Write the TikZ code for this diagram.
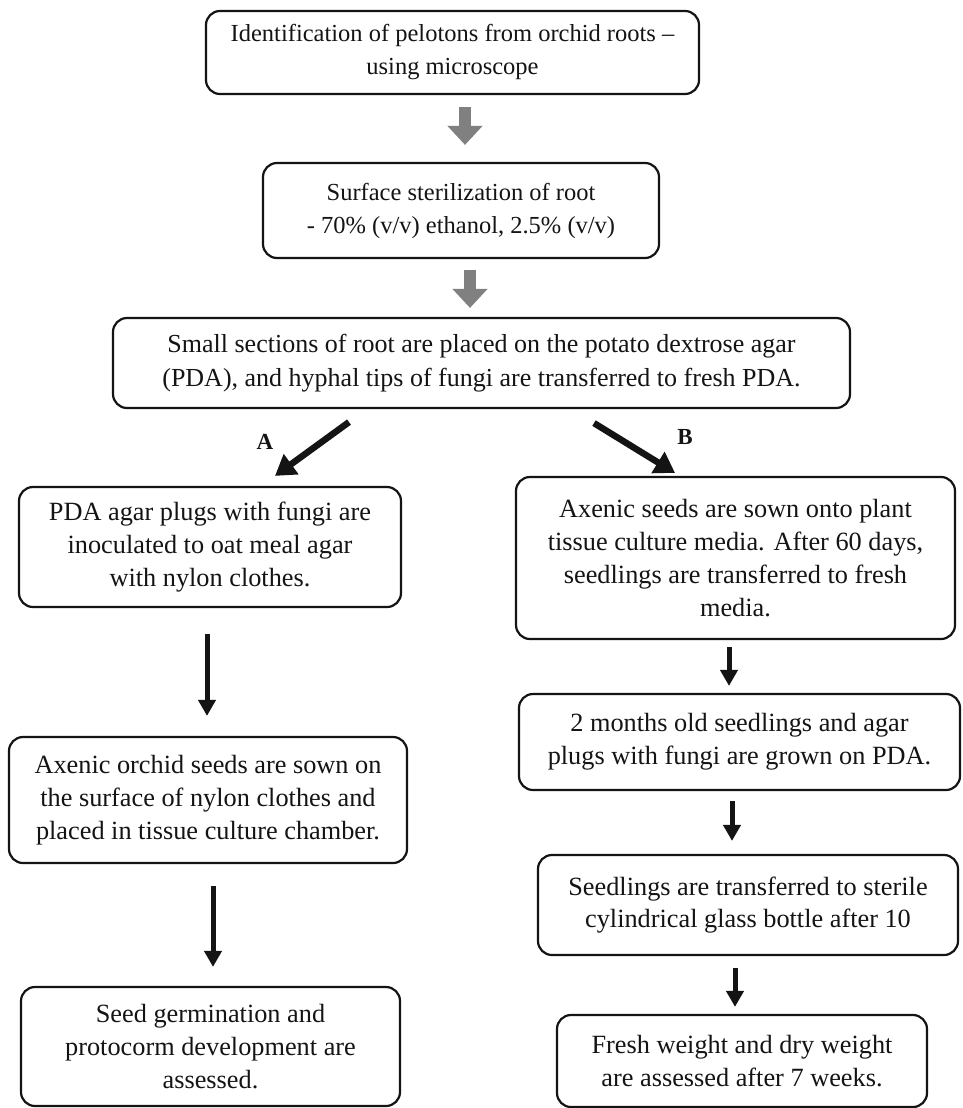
\documentclass[tikz,border=0pt]{standalone}
\usepackage{fontspec}
\setmainfont{Liberation Serif}
\usetikzlibrary{arrows.meta,calc}
\definecolor{arrgray}{RGB}{128,128,128}
\definecolor{ink}{RGB}{20,20,20}
\begin{document}
\begin{tikzpicture}[x=1pt,y=-1pt,
  box/.style={draw=ink, line width=2.2pt, rounded corners=14pt, align=center, inner sep=0pt,
              font=\fontsize{26.3}{32.8}\selectfont, text=ink},
  smalltext/.style={font=\fontsize{24.5}{33}\selectfont},
  midtext/.style={font=\fontsize{26}{34}\selectfont},
  grayarrow/.style={draw=arrgray, line width=12pt, -{Triangle[length=19pt,width=34pt]}},
  blkarrow/.style={draw=ink, line width=5pt, -{Triangle[length=16pt,width=17pt]}},
  diagarrow/.style={draw=ink, line width=6.5pt, -{Triangle[length=20pt,width=24pt]}},
  lbl/.style={font=\fontsize{23}{28}\selectfont\bfseries, text=ink, inner sep=0pt}
]
\useasboundingbox (0,0) rectangle (962,1108);
\fill[white] (0,0) rectangle (962,1108);

\node[box, smalltext, minimum width=493, minimum height=83] (n1) at (452.5,52.5)
  {Identification of pelotons from orchid roots –\\using microscope};
\node[box, smalltext, minimum width=396, minimum height=95] (n2) at (461,210.5)
  {Surface sterilization of root\\- 70\% (v/v) ethanol, 2.5\% (v/v)};
\node[box, midtext, minimum width=737, minimum height=90] (n3) at (481.5,363)
  {Small sections of root are placed on the potato dextrose agar\\(PDA), and hyphal tips of fungi are transferred to fresh PDA.};

\node[box, minimum width=382, minimum height=120] (a1) at (210,547)
  {PDA agar plugs with fungi are\\inoculated to oat meal agar\\with nylon clothes.};
\node[box, minimum width=398, minimum height=126] (a2) at (208,800)
  {Axenic orchid seeds are sown on\\the surface of nylon clothes and\\placed in tissue culture chamber.};
\node[box, minimum width=379, minimum height=119] (a3) at (210.5,1046.5)
  {Seed germination and\\protocorm development are\\assessed.};

\node[box, minimum width=439, minimum height=162] (b1) at (735.5,558)
  {Axenic seeds are sown onto plant\\tissue culture media. After 60 days,\\seedlings are transferred to fresh\\media.};
\node[box, minimum width=441, minimum height=96] (b2) at (739.5,742)
  {2 months old seedlings and agar\\plugs with fungi are grown on PDA.};
\node[box, minimum width=420, minimum height=100] (b3) at (748,905)
  {Seedlings are transferred to sterile\\cylindrical glass bottle after 10};
\node[box, minimum width=370, minimum height=92] (b4) at (742,1061)
  {Fresh weight and dry weight\\are assessed after 7 weeks.};

\node[lbl] (la) at (265,442) {A};
\node[lbl] (lb) at (685,437) {B};

\draw[grayarrow] ([xshift=12.5pt,yshift=-12pt]n1.south) -- ([xshift=4pt,yshift=17pt]n2.north);
\draw[grayarrow] ([xshift=9pt,yshift=-11pt]n2.south) -- ([xshift=-11.5pt,yshift=9pt]n3.north);

\draw[diagarrow] ([xshift=-132.5pt,yshift=-13pt]n3.south) -- ([xshift=65pt,yshift=10pt]a1.north);
\draw[diagarrow] ([xshift=112.5pt,yshift=-14pt]n3.south) -- ([xshift=-60.5pt,yshift=3pt]b1.north);

\draw[blkarrow] ([xshift=-3pt,yshift=-26pt]a1.south) -- ([xshift=-1pt,yshift=20pt]a2.north);
\draw[blkarrow] ([xshift=5pt,yshift=-22pt]a2.south) -- ([xshift=2.5pt,yshift=19pt]a3.north);

\draw[blkarrow] ([xshift=-6.5pt,yshift=-7pt]b1.south) -- ([xshift=-10.5pt,yshift=7pt]b2.north);
\draw[blkarrow] ([xshift=-7.5pt,yshift=-10pt]b2.south) -- ([xshift=-16pt,yshift=13pt]b3.north);
\draw[blkarrow] ([xshift=-13pt,yshift=-12pt]b3.south) -- ([xshift=-7pt,yshift=7pt]b4.north);
\end{tikzpicture}
\end{document}
